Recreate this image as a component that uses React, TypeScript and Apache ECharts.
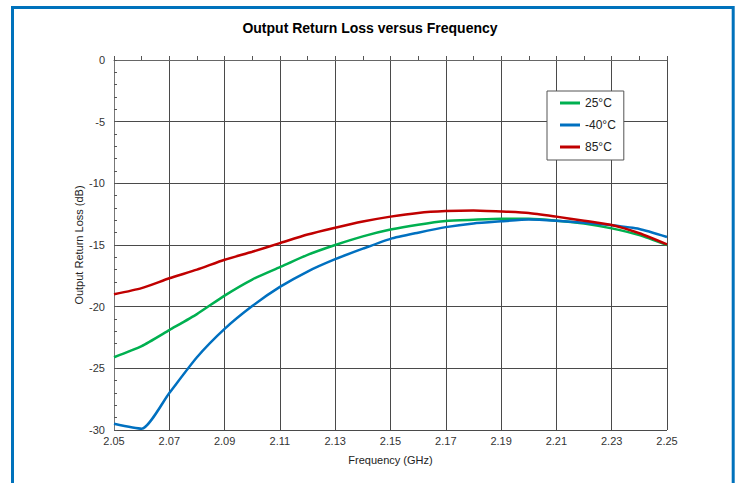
import React, { useEffect, useRef } from "react";
import * as echarts from "echarts";

const titleText = "Output Return Loss versus Frequency";
const xAxisName = "Frequency (GHz)";
const yAxisName = "Output Return Loss (dB)";

const frequencies = [
  "2.05", "2.06", "2.07", "2.08", "2.09", "2.10", "2.11", "2.12", "2.13", "2.14", "2.15",
  "2.16", "2.17", "2.18", "2.19", "2.20", "2.21", "2.22", "2.23", "2.24", "2.25",
];

const series25 = [
  -24.1, -23.2, -21.9, -20.6, -19.1, -17.8, -16.8, -15.8, -15.0, -14.3, -13.75,
  -13.35, -13.05, -12.95, -12.87, -12.88, -13.03, -13.25, -13.65, -14.2, -15.0,
];
const seriesMinus40 = [
  -29.5, -29.9, -27.0, -24.1, -21.8, -19.95, -18.4, -17.15, -16.15, -15.3, -14.5,
  -14.0, -13.55, -13.25, -13.08, -12.93, -13.03, -13.2, -13.4, -13.7, -14.35,
];
const series85 = [
  -19.0, -18.5, -17.7, -17.0, -16.2, -15.55, -14.85, -14.15, -13.6, -13.1, -12.7,
  -12.4, -12.25, -12.2, -12.28, -12.4, -12.7, -13.03, -13.38, -14.05, -14.95,
];

const seriesNames = ["25°C", "-40°C", "85°C"];
const seriesColors = ["#00B050", "#0070C0", "#C00000"];

const FONT = "Liberation Sans, Arial, sans-serif";

export default function App() {
  const ref = useRef<HTMLDivElement>(null);

  useEffect(() => {
    if (!ref.current) return;
    const chart = echarts.init(ref.current, null, { renderer: "svg" });
    const datasets = [series25, seriesMinus40, series85];
    chart.setOption({
      animation: false,
      backgroundColor: "#ffffff",
      textStyle: { fontFamily: FONT },
      title: {
        text: titleText,
        left: "center",
        top: 16,
        textStyle: { fontSize: 14, fontWeight: "bold", color: "#000", fontFamily: FONT },
      },
      graphic: [
        {
          type: "rect",
          shape: { x: 12.5, y: 7.5, width: 720.7, height: 500 },
          style: { fill: "none", stroke: "#0072BC", lineWidth: 3 },
          silent: true,
          z: 100,
        },
      ],
      legend: {
        orient: "vertical",
        left: 547,
        top: 91,
        itemWidth: 20,
        itemHeight: 14,
        itemGap: 10,
        padding: [6, 8, 7, 13],
        backgroundColor: "#ffffff",
        borderColor: "#555",
        borderWidth: 1,
        borderRadius: 0,
        textStyle: { fontSize: 12, color: "#222", fontFamily: FONT },
        data: seriesNames.map((n) => ({ name: n, icon: "path://M0,0 L20,0 L20,3 L0,3 Z" })),
      },
      grid: { left: 114, right: 73, top: 60, bottom: 53, containLabel: false },
      xAxis: {
        type: "category",
        data: frequencies,
        boundaryGap: false,
        name: xAxisName,
        nameLocation: "middle",
        nameGap: 24,
        nameMoveOverlap: false,
        nameTextStyle: { fontSize: 11, color: "#222", fontFamily: FONT },
        axisLine: { show: true, lineStyle: { color: "#666", width: 1 } },
        axisTick: { show: true, inside: true, interval: 0, length: 4, lineStyle: { color: "#555" } },
        axisLabel: { interval: 1, fontSize: 11, color: "#333", margin: 5, fontFamily: FONT },
        splitLine: { show: true, interval: 1, lineStyle: { color: "#4a4a4a", width: 1 } },
      },
      yAxis: {
        type: "value",
        min: -30,
        max: 0,
        interval: 5,
        name: yAxisName,
        nameLocation: "middle",
        nameGap: 30,
        nameRotate: 90,
        nameMoveOverlap: false,
        nameTextStyle: { fontSize: 11, color: "#222", fontFamily: FONT },
        axisLine: { show: true, lineStyle: { color: "#777", width: 1 } },
        axisTick: { show: true, inside: true, length: 3, lineStyle: { color: "#555" } },
        minorTick: { show: true, splitNumber: 5, length: 3, lineStyle: { color: "#555" } },
        axisLabel: { fontSize: 11, color: "#333", margin: 9, fontFamily: FONT },
        splitLine: { show: true, lineStyle: { color: "#4a4a4a", width: 1 } },
      },
      series: datasets.map((d, i) => ({
        name: seriesNames[i],
        type: "line",
        data: d,
        symbol: "none",
        smooth: 0.2,
        lineStyle: { color: seriesColors[i], width: 2.5 },
        itemStyle: { color: seriesColors[i] },
        z: 3 + i,
      })),
    });
    return () => chart.dispose();
  }, []);

  return (
    <div style={{ position: "fixed", left: 0, top: 0, width: 740, height: 483, background: "#fff" }}>
      <div ref={ref} style={{ width: 740, height: 483 }} />
    </div>
  );
}
